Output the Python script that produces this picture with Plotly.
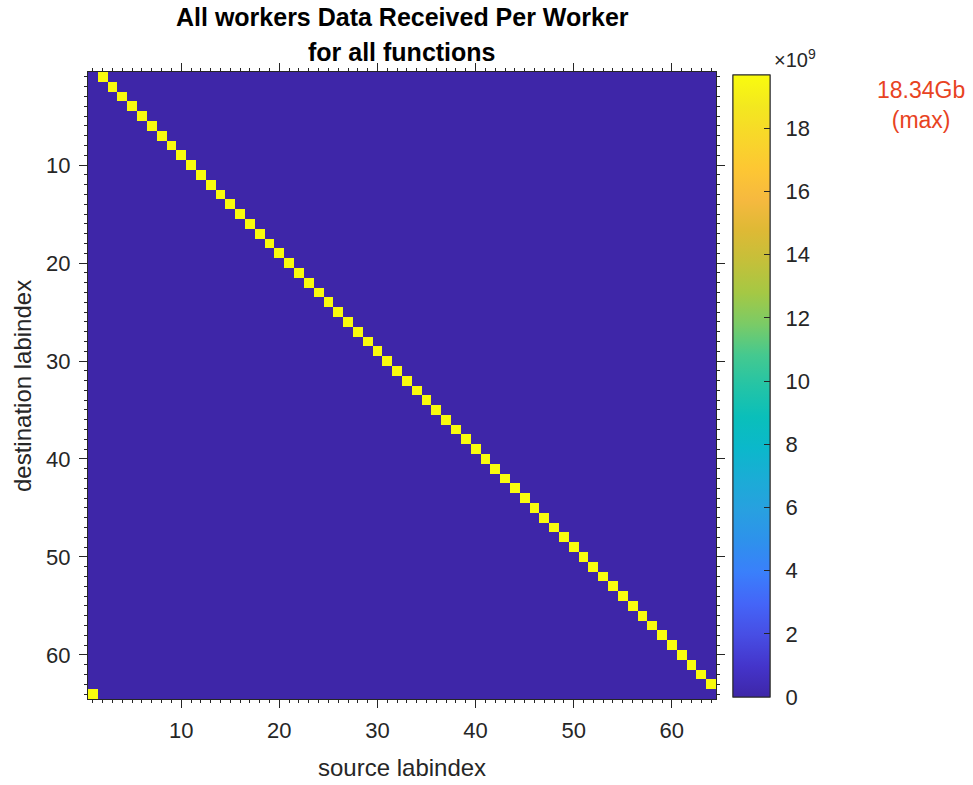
import plotly.graph_objects as go

# ---- data ----
n_workers = 64
destination = list(range(1, 65))
source = [2, 3, 4, 5, 6, 7, 8, 9, 10, 11, 12, 13, 14, 15, 16, 17, 18, 19, 20, 21,
          22, 23, 24, 25, 26, 27, 28, 29, 30, 31, 32, 33, 34, 35, 36, 37, 38, 39, 40, 41,
          42, 43, 44, 45, 46, 47, 48, 49, 50, 51, 52, 53, 54, 55, 56, 57, 58, 59, 60, 61,
          62, 63, 64, 1]
bytes_received = [19.69e9] * 64   # 18.34 GiB each
cbar_tickvals = [0, 2e9, 4e9, 6e9, 8e9, 10e9, 12e9, 14e9, 16e9, 18e9]
cbar_ticktext = ["0", "2", "4", "6", "8", "10", "12", "14", "16", "18"]
max_label = "18.34Gb<br>(max)"
title_lines = ["All workers Data Received Per Worker", "for all functions"]

# build matrix
z = [[0.0] * n_workers for _ in range(n_workers)]
for d, s, v in zip(destination, source, bytes_received):
    z[d - 1][s - 1] = v
idx = list(range(1, n_workers + 1))

parula = [
    [0.000, "#3e26a8"], [0.050, "#4435cb"], [0.100, "#474ee4"], [0.150, "#4465f8"],
    [0.200, "#3a7ffb"], [0.250, "#2e91ec"], [0.300, "#28a0e0"], [0.350, "#1bacd6"],
    [0.400, "#0bb8cb"], [0.450, "#0abfba"], [0.500, "#24c4a6"], [0.550, "#45c98f"],
    [0.600, "#7bcb66"], [0.650, "#a5c844"], [0.700, "#c4c03a"], [0.750, "#deb935"],
    [0.800, "#f6b93f"], [0.850, "#fdc733"], [0.900, "#f8d72a"], [0.950, "#f3e81f"],
    [1.000, "#f9fb0e"],
]

font_main = "Liberation Sans, Arial, Helvetica, sans-serif"
ink = "#262626"

L, R, T, B = 88, 716, 72, 699
W, H = 973, 785
pw, ph = R - L, B - T


def px(xp):
    return (xp - L) / pw


def py(yp):
    return (B - yp) / ph


cbar_base = dict(
    x=px(733), xanchor="left", xref="paper", xpad=0, ypad=0,
    y=py(386), yanchor="middle",
    len=622 / ph, lenmode="fraction", thickness=37, thicknessmode="pixels",
    outlinewidth=1, outlinecolor=ink, tickvals=cbar_tickvals,
)

# colorbar carrying the labels (with a transparent spacer tick)
cbar_labels = dict(cbar_base, ticks="outside", ticklen=11, tickcolor="rgba(0,0,0,0)",
                   ticktext=cbar_ticktext,
                   tickfont=dict(family=font_main, size=22, color=ink))
# colorbar carrying the inside tick marks
cbar_ticks = dict(cbar_base, ticks="inside", ticklen=6, tickcolor=ink, showticklabels=False)

fig = go.Figure()
fig.add_trace(go.Heatmap(z=z, x=idx, y=idx, colorscale=parula, zmin=0, zmax=max(bytes_received),
                         colorbar=cbar_labels, hoverinfo="skip"))
fig.add_trace(go.Heatmap(z=z, x=idx, y=idx, colorscale=parula, zmin=0, zmax=max(bytes_received),
                         colorbar=cbar_ticks))

axis_common = dict(
    range=[0.5, 64.5], tick0=0, dtick=10, ticks="outside", ticklen=8, tickcolor=ink,
    showline=True, linecolor=ink, linewidth=1, mirror="ticks", showgrid=False,
    zeroline=False, tickfont=dict(family=font_main, size=22, color=ink),
    ticklabelstandoff=4,
    minor=dict(dtick=1, tick0=0, ticks="outside", ticklen=3, tickcolor=ink, showgrid=False),
)

annots = [
    dict(text="<b>%s</b>" % title_lines[0], x=px(402), y=py(17)),
    dict(text="<b>%s</b>" % title_lines[1], x=px(402), y=py(52)),
]
for a in annots:
    a.update(xref="paper", yref="paper", xanchor="center", yanchor="middle", showarrow=False,
             font=dict(family=font_main, size=25, color="black"))

annots += [
    dict(text="source labindex", xref="paper", yref="paper", x=px(402), y=py(767),
         xanchor="center", yanchor="middle", showarrow=False,
         font=dict(family=font_main, size=24, color=ink)),
    dict(text="destination labindex", xref="paper", yref="paper", x=px(22), y=py(386),
         xanchor="center", yanchor="middle", showarrow=False, textangle=-90,
         font=dict(family=font_main, size=24, color=ink)),
    dict(text="×10<sup>9</sup>", xref="paper", yref="paper", x=px(772), y=py(58),
         xanchor="left", yanchor="middle", showarrow=False,
         font=dict(family=font_main, size=20, color=ink)),
    dict(text=max_label, xref="paper", yref="paper", x=px(921), y=py(105),
         xanchor="center", yanchor="middle", showarrow=False,
         font=dict(family=font_main, size=23, color="#e8431f")),
]

fig.update_layout(
    width=W, height=H,
    margin=dict(l=L, r=W - R, t=T, b=H - B, autoexpand=False),
    paper_bgcolor="white", plot_bgcolor="white",
    xaxis=axis_common,
    yaxis=dict(axis_common),
    annotations=annots,
)
fig.update_yaxes(range=[64.5, 0.5])

fig.write_html("out.html", config={"displayModeBar": False},
               post_script="document.body.style.margin='0';")
